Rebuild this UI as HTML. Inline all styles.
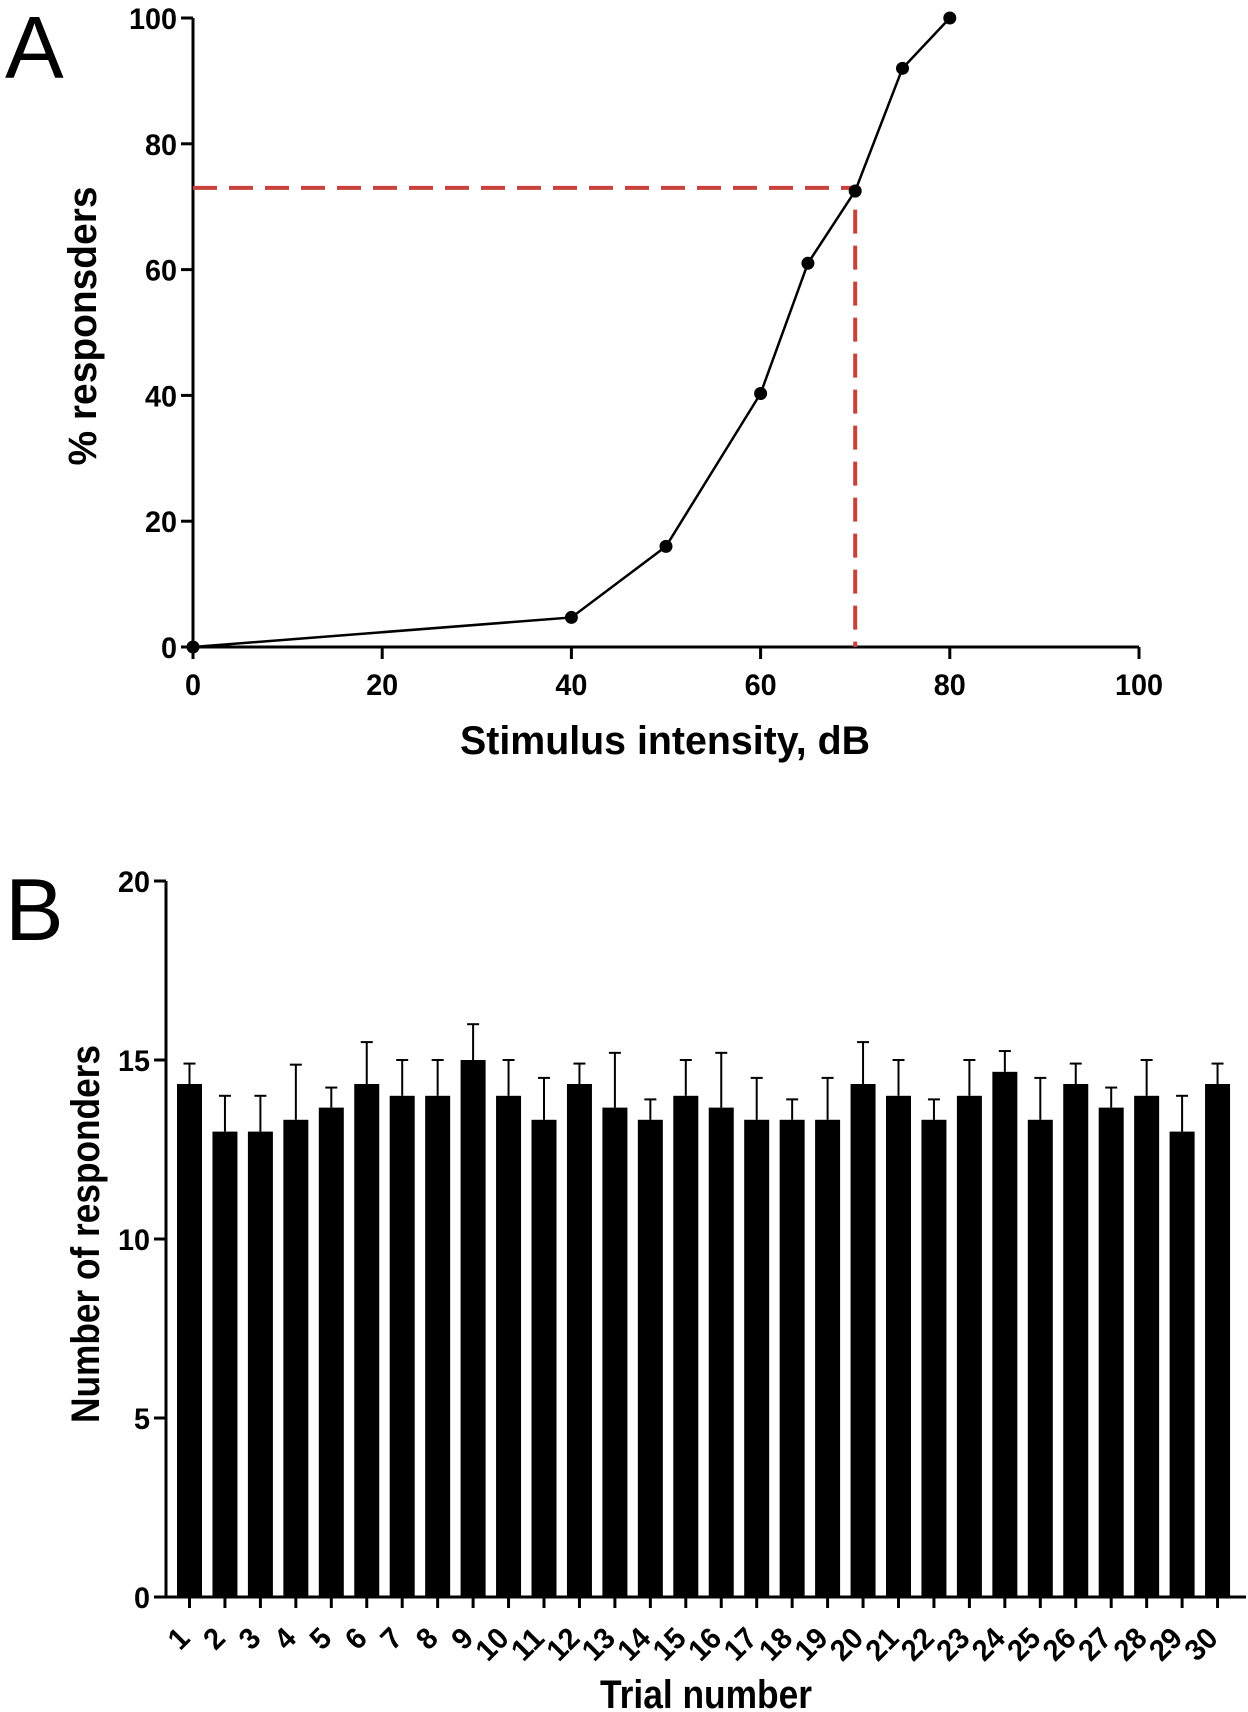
<!DOCTYPE html>
<html><head><style>body{margin:0;background:#fff}svg{display:block}text{font-family:"Liberation Sans",sans-serif;font-weight:bold;fill:#000}</style></head>
<body>
<svg width="1248" height="1712" viewBox="0 0 1248 1712" xmlns="http://www.w3.org/2000/svg">
<text x="5" y="78" style="font-weight:normal;font-size:88px">A</text>
<text x="5" y="940" style="font-weight:normal;font-size:88px">B</text>
<g id="A"></g>
<g id="B"></g>
<script>
var ns="http://www.w3.org/2000/svg";
function el(p,t,a,txt){var e=document.createElementNS(ns,t);for(var k in a)e.setAttribute(k,a[k]);if(txt!==undefined)e.textContent=txt;p.appendChild(e);return e;}
function num(p,a,v){a['font-size']=30;a.textLength=16*String(v).length;a.lengthAdjust='spacingAndGlyphs';return el(p,'text',a,v);}
var A=document.getElementById('A');
var x0=193,x1=1139,y0=647,y1=18;
function X(v){return x0+(x1-x0)*v/100} function Y(v){return y0-(y0-y1)*v/100}
el(A,'line',{x1:x0,y1:y1,x2:x0,y2:y0,stroke:'#000','stroke-width':3});
el(A,'line',{x1:x0-2,y1:y0,x2:x1,y2:y0,stroke:'#000','stroke-width':3});
for(var v=0;v<=100;v+=20){
 el(A,'line',{x1:x0-12,y1:Y(v),x2:x0,y2:Y(v),stroke:'#000','stroke-width':3});
 num(A,{x:x0-16,y:Y(v)+11,'text-anchor':'end'},v);
 el(A,'line',{x1:X(v),y1:y0,x2:X(v),y2:y0+12,stroke:'#000','stroke-width':3});
 num(A,{x:X(v),y:y0+48,'text-anchor':'middle'},v);
}
el(A,'path',{d:'M'+x0+' '+Y(73)+' H'+X(70)+' V'+y0,fill:'none',stroke:'#c8413b','stroke-width':4,'stroke-dasharray':'24 12'});
var d=[[0,0],[40,4.7],[50,16],[60,40.3],[65,61],[70,72.5],[75,92],[80,100]];
el(A,'polyline',{points:d.map(function(p){return X(p[0])+','+Y(p[1])}).join(' '),fill:'none',stroke:'#000','stroke-width':2.5});
d.forEach(function(p){el(A,'circle',{cx:X(p[0]),cy:Y(p[1]),r:6.5,fill:'#000'})});
el(A,'text',{x:665,y:754,'text-anchor':'middle','font-size':40,textLength:410,lengthAdjust:'spacingAndGlyphs'},'Stimulus intensity, dB');
el(A,'text',{transform:'translate(96,326) rotate(-90)','text-anchor':'middle','font-size':40,textLength:279,lengthAdjust:'spacingAndGlyphs'},'% responsders');
var B=document.getElementById('B');
var bx0=166,bx1=1246,by0=1597,by1=881;
function BY(v){return by0-(by0-by1)*v/20}
el(B,'line',{x1:bx0,y1:by1,x2:bx0,y2:by0,stroke:'#000','stroke-width':3});
el(B,'line',{x1:bx0-2,y1:by0,x2:bx1,y2:by0,stroke:'#000','stroke-width':3});
for(var v=0;v<=20;v+=5){
 el(B,'line',{x1:bx0-12,y1:BY(v),x2:bx0,y2:BY(v),stroke:'#000','stroke-width':3});
 num(B,{x:bx0-16,y:BY(v)+11,'text-anchor':'end'},v);
}
var vals=[[14.33,14.9],[13,14],[13,14],[13.33,14.87],[13.67,14.23],[14.33,15.5],[14,15],[14,15],[15,16],[14,15],[13.33,14.5],[14.33,14.9],[13.67,15.2],[13.33,13.9],[14,15],[13.67,15.2],[13.33,14.5],[13.33,13.9],[13.33,14.5],[14.33,15.5],[14,15],[13.33,13.9],[14,15],[14.67,15.25],[13.33,14.5],[14.33,14.9],[13.67,14.23],[14,15],[13,14],[14.33,14.9]];
vals.forEach(function(p,i){
 var cx=189.5+i*35.45;
 el(B,'line',{x1:cx,y1:BY(p[0]),x2:cx,y2:BY(p[1]),stroke:'#000','stroke-width':2});
 el(B,'line',{x1:cx-6,y1:BY(p[1]),x2:cx+6,y2:BY(p[1]),stroke:'#000','stroke-width':2});
 el(B,'rect',{x:cx-12.5,y:BY(p[0]),width:25,height:by0-BY(p[0]),fill:'#000'});
 el(B,'line',{x1:cx,y1:by0,x2:cx,y2:by0+11,stroke:'#000','stroke-width':3});
 num(B,{transform:'translate('+(cx+2)+',1640) rotate(-45)','text-anchor':'end'},i+1);
});
el(B,'text',{x:706,y:1708,'text-anchor':'middle','font-size':40,textLength:212,lengthAdjust:'spacingAndGlyphs'},'Trial number');
el(B,'text',{transform:'translate(99,1234) rotate(-90)','text-anchor':'middle','font-size':40,textLength:378,lengthAdjust:'spacingAndGlyphs'},'Number of responders');
</script>
</svg>
</body></html>
